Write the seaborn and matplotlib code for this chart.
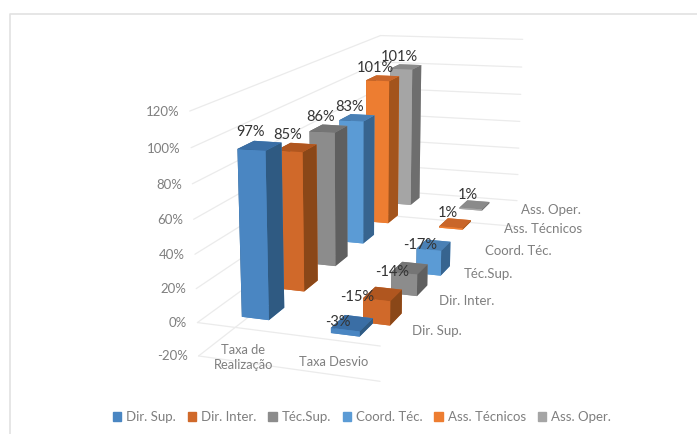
import matplotlib
matplotlib.use("Agg")
import matplotlib.pyplot as plt
from matplotlib.lines import Line2D
import numpy as np
import seaborn as sns
from matplotlib.patches import Rectangle

sns.set_theme(style="white")
plt.rcParams['font.family'] = ['Lato', 'DejaVu Sans']

categories = ["Taxa de\nRealização", "Taxa Desvio"]
series = ["Dir. Sup.", "Dir. Inter.", "Téc.Sup.", "Coord. Téc.", "Ass. Técnicos", "Ass. Oper."]
realizacao = [97, 85, 86, 83, 101, 101]
desvio = [-3, -15, -14, -17, 1, 1]
z_ticks = [-20, 0, 20, 40, 60, 80, 100, 120]

front = ["#4a86c2", "#d0692a", "#8c8c8c", "#5b9bd5", "#ed7d31", "#a5a5a5"]
top = ["#3a6ea5", "#b0561f", "#757575", "#4a80b5", "#c9662a", "#8a8a8a"]
side = ["#2f5a82", "#8a4718", "#5f5f5f", "#37648f", "#a3541c", "#6e6e6e"]
palette = sns.color_palette(front)

W, H = 697, 434
fig = plt.figure(figsize=(W / 100, H / 100), dpi=100)
ax = fig.add_axes([0, 0, 1, 1], projection="3d")
ax.set_xlim(0, 2)
ax.set_ylim(0, 6)
ax.set_zlim(-20, 120)
ax.set_axis_off()
ax.computed_zorder = False

# Camera: a projective view calibrated on the corners of the chart box
world = [(0, 0, 120), (0, 0, 0), (0, 0, -20), (2, 0, 0), (2, 0, -20),
         (0, 6, 120), (2, 6, 120), (2, 6, 0), (2, 6, -20), (0, 6, 0)]
screen = [(190, 111), (197, 322), (199, 356), (380, 346), (380, 382),
          (380, 35), (523, 40), (517, 200), (516, 226), (380, 191)]
rows = []
for (X, Y, Z), (u, v) in zip(world, screen):
    v = H - v
    p = [X, Y, Z, 1]
    rows.append(p + [0, 0, 0, 0] + [-u * c for c in p])
    rows.append([0, 0, 0, 0] + p + [-v * c for c in p])
cam = np.linalg.svd(np.array(rows, float))[2][-1].reshape(3, 4)
cam = cam / cam[2, 3]


def calibrated_proj():
    pix = ax.transData.inverted().get_matrix() @ cam
    return np.vstack([pix[0], pix[1], [0, 0, 0, -1], pix[2]])


ax.get_proj = calibrated_proj

grid = "#ebebeb"
for z in z_ticks:
    ax.plot([0, 0], [0, 6], [z, z], color=grid, lw=0.9, clip_on=False, zorder=1)
    ax.plot([0, 2], [6, 6], [z, z], color=grid, lw=0.9, clip_on=False, zorder=1)
    ax.text(-0.12, 0, z - 1, f"{z}%", ha="right", va="center", fontsize=9.5, color="#7f7f7f", zorder=100)
for z in (-20, 0):
    ax.plot([0, 2], [0, 0], [z, z], color=grid, lw=0.9, clip_on=False, zorder=1)

bw, bd = 0.31, 0.42
neg_nudge = [-0.03, -0.16, -0.08, -0.04]
neg_drop = [0, -3, -3, 0]
xs, ys, zs, dz, cols, labels = [], [], [], [], [], []
for c, vals in enumerate((realizacao, desvio)):
    for s, v in enumerate(vals):
        xs.append(c + 0.52 - bw / 2)
        ys.append(s + 0.53 - bd / 2)
        zs.append(min(v, 0))
        dz.append(abs(v))
        if v < 0:
            labels.append((c + 0.4 + neg_nudge[s], s + 0.5, neg_drop[s], f"{v}%"))
        else:
            labels.append((c + 0.43, s + 0.5, v + 7.5, f"{v}%"))
        # face order: -z, +z, -y, +y, -x, +x
        cols += [front[s], top[s], front[s], front[s], side[s], side[s]]
bars = ax.bar3d(xs, ys, zs, bw, bd, dz, color=cols, shade=False, linewidth=0)
bars.set_clip_on(False)
bars.set_zorder(5)

for x, y, z, t in labels:
    ax.text(x, y, z, t, ha="center", va="center", fontsize=10.5, color="#333333", zorder=101)

cat_anchor = [(0.4, 0.25, -23), (1.42, 0.25, -18)]
for (x, y, z), name in zip(cat_anchor, categories):
    ax.text(x, y, z, name, ha="center", va="center", fontsize=9.3, color="#7f7f7f", zorder=100, linespacing=1.35)
for s, name in enumerate(series):
    ax.text(2.17, s + 0.5, 0, name, ha="left", va="center", fontsize=9.5, color="#7f7f7f", zorder=100)

handles = [Rectangle((0, 0), 1, 1, color=palette[i]) for i in range(6)]
fig.legend(handles, series, loc="lower center", bbox_to_anchor=(0.519, -0.003), ncol=6, frameon=False,
           fontsize=9.5, labelcolor="#7f7f7f", handlelength=0.65, handleheight=0.65,
           handletextpad=0.35, columnspacing=0.9)
fig.add_artist(Line2D([9.5 / W, 9.5 / W, 1], [0, 1 - 13.5 / H, 1 - 13.5 / H], transform=fig.transFigure,
                      color="#e2e2e2", lw=1.2))
fig.savefig("out.png", dpi=100)
